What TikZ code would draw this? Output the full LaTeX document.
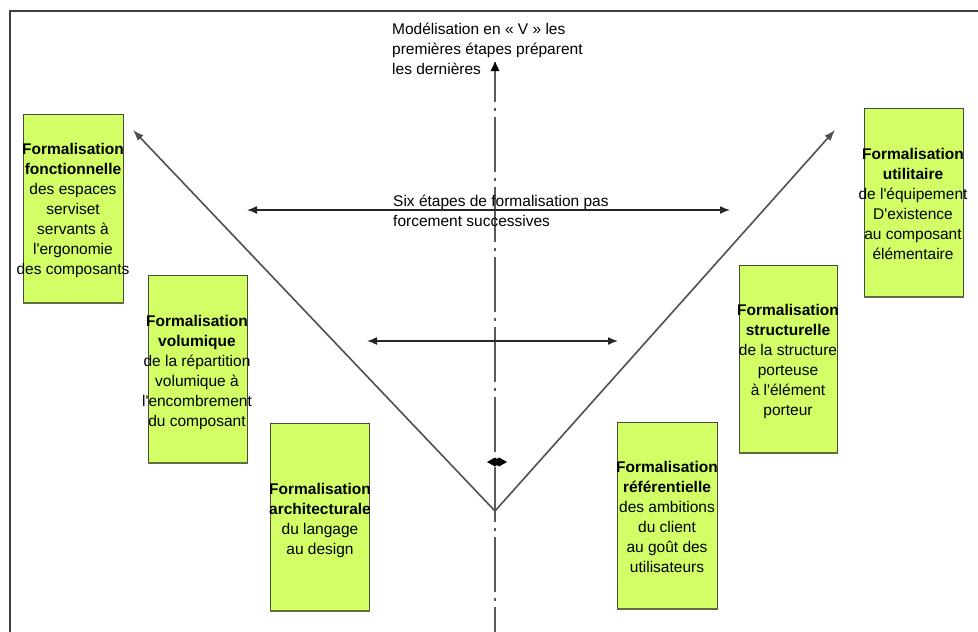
\documentclass[tikz,border=0pt]{standalone}
\usepackage{fontspec}
\setmainfont{Liberation Sans}
\usetikzlibrary{arrows.meta}
\definecolor{boxfill}{RGB}{210,255,102}
\definecolor{boxline}{RGB}{70,75,60}
\definecolor{boxshade}{RGB}{95,110,60}
\definecolor{armcol}{RGB}{80,80,80}
\definecolor{axiscol}{RGB}{90,90,90}
\tikzset{
  vbox/.style={draw=boxline, line width=1pt, fill=boxfill, inner sep=0pt, anchor=north west},
  boxtext/.style={anchor=base, align=center, inner sep=0pt, font=\fontsize{15.5}{20}\selectfont},
  plain/.style={anchor=base west, align=left, inner sep=0pt, font=\fontsize{15.5}{20}\selectfont},
  shade/.style={draw=boxshade, line width=2.5pt},
  varm/.style={draw=armcol, line width=1.6pt, {Latex[length=11pt,width=8pt]}-{Latex[length=11pt,width=8pt]}},
  harrow/.style={draw=black!85, line width=1.5pt, {Latex[length=10pt,width=8pt]}-{Latex[length=10pt,width=8pt]}},
  axisline/.style={draw=axiscol, line width=1.2pt, dash pattern=on 55pt off 6pt on 3pt off 6pt, dash phase=30pt}
}
\newcommand{\mybox}[5]{%
  \node[vbox, minimum width=#3pt, minimum height=#4pt] (#5) at (#1,#2) {};
  \draw[shade] (#5.south west) -- (#5.south east);
}
\begin{document}
\begin{tikzpicture}[x=1pt,y=-1pt]
\useasboundingbox (0,0) rectangle (978,632);
\fill[white] (0,0) rectangle (978,632);
% frame
\draw[black!75, line width=1.3pt] (10,632) -- (10,11) -- (978,11);

% vertical dash-dot axis
\coordinate (axtop) at (495,62);
\coordinate (axbot) at (495,632);
\draw[axisline] (axbot) -- (axtop);
\fill[black] (axtop) -- ++(-4.5,9) -- ++(9,0) -- cycle;

% V arms
\coordinate (vl) at (133,130);
\coordinate (vtx) at (495,511);
\coordinate (vr) at (835,130);
\draw[varm] (vl) -- (vtx) -- (vr);

% horizontal arrows
\coordinate (h1l) at (247,210);
\coordinate (h1r) at (730,210);
\draw[harrow] (h1l) -- (h1r);
\coordinate (h2l) at (367,341);
\coordinate (h2r) at (618,341);
\draw[harrow] (h2l) -- (h2r);

% small marker on axis
\coordinate (mk) at (497,462);
\fill[black] ([xshift=-10pt]mk) -- ([xshift=-2pt,yshift=-4.5pt]mk) -- ([yshift=-3pt]mk) -- ([xshift=2pt,yshift=-4.5pt]mk) -- ([xshift=10pt]mk) -- ([xshift=2pt,yshift=4.5pt]mk) -- ([yshift=3pt]mk) -- ([xshift=-2pt,yshift=4.5pt]mk) -- cycle;

% boxes
\mybox{23}{114}{100}{188}{b1}
\mybox{148}{275}{99}{187}{b2}
\mybox{270}{423}{99}{187}{b3}
\mybox{617}{422}{100}{186}{b4}
\mybox{739}{265}{98}{187}{b5}
\mybox{864}{108}{99}{188}{b6}

% box texts (anchor = baseline of last line)
\node[boxtext] (t1) at (73,274) {\textbf{Formalisation}\\\textbf{fonctionnelle}\\des espaces\\serviset\\servants à\\l\textquotesingle ergonomie\\des composants};
\node[boxtext] (t2) at (197,426) {\textbf{Formalisation}\\\textbf{volumique}\\de la répartition\\volumique à\\l\textquotesingle encombrement\\du composant};
\node[boxtext] (t3) at (320,554) {\textbf{Formalisation}\\\textbf{architecturale}\\du langage\\au design};
\node[boxtext] (t4) at (667,572) {\textbf{Formalisation}\\\textbf{référentielle}\\des ambitions\\du client\\au goût des\\utilisateurs};
\node[boxtext] (t5) at (788,415) {\textbf{Formalisation}\\\textbf{structurelle}\\de la structure\\porteuse\\à l\textquotesingle élément\\porteur};
\node[boxtext] (t6) at (913,259) {\textbf{Formalisation}\\\textbf{utilitaire}\\de l\textquotesingle équipement\\D\textquotesingle existence\\au composant\\élémentaire};

% free texts
\node[plain] (title) at (392,74.5) {Modélisation en « V » les\\premières étapes préparent\\les dernières};
\node[plain] (six) at (393,226) {Six étapes de formalisation pas\\forcement successives};
\end{tikzpicture}
\end{document}
